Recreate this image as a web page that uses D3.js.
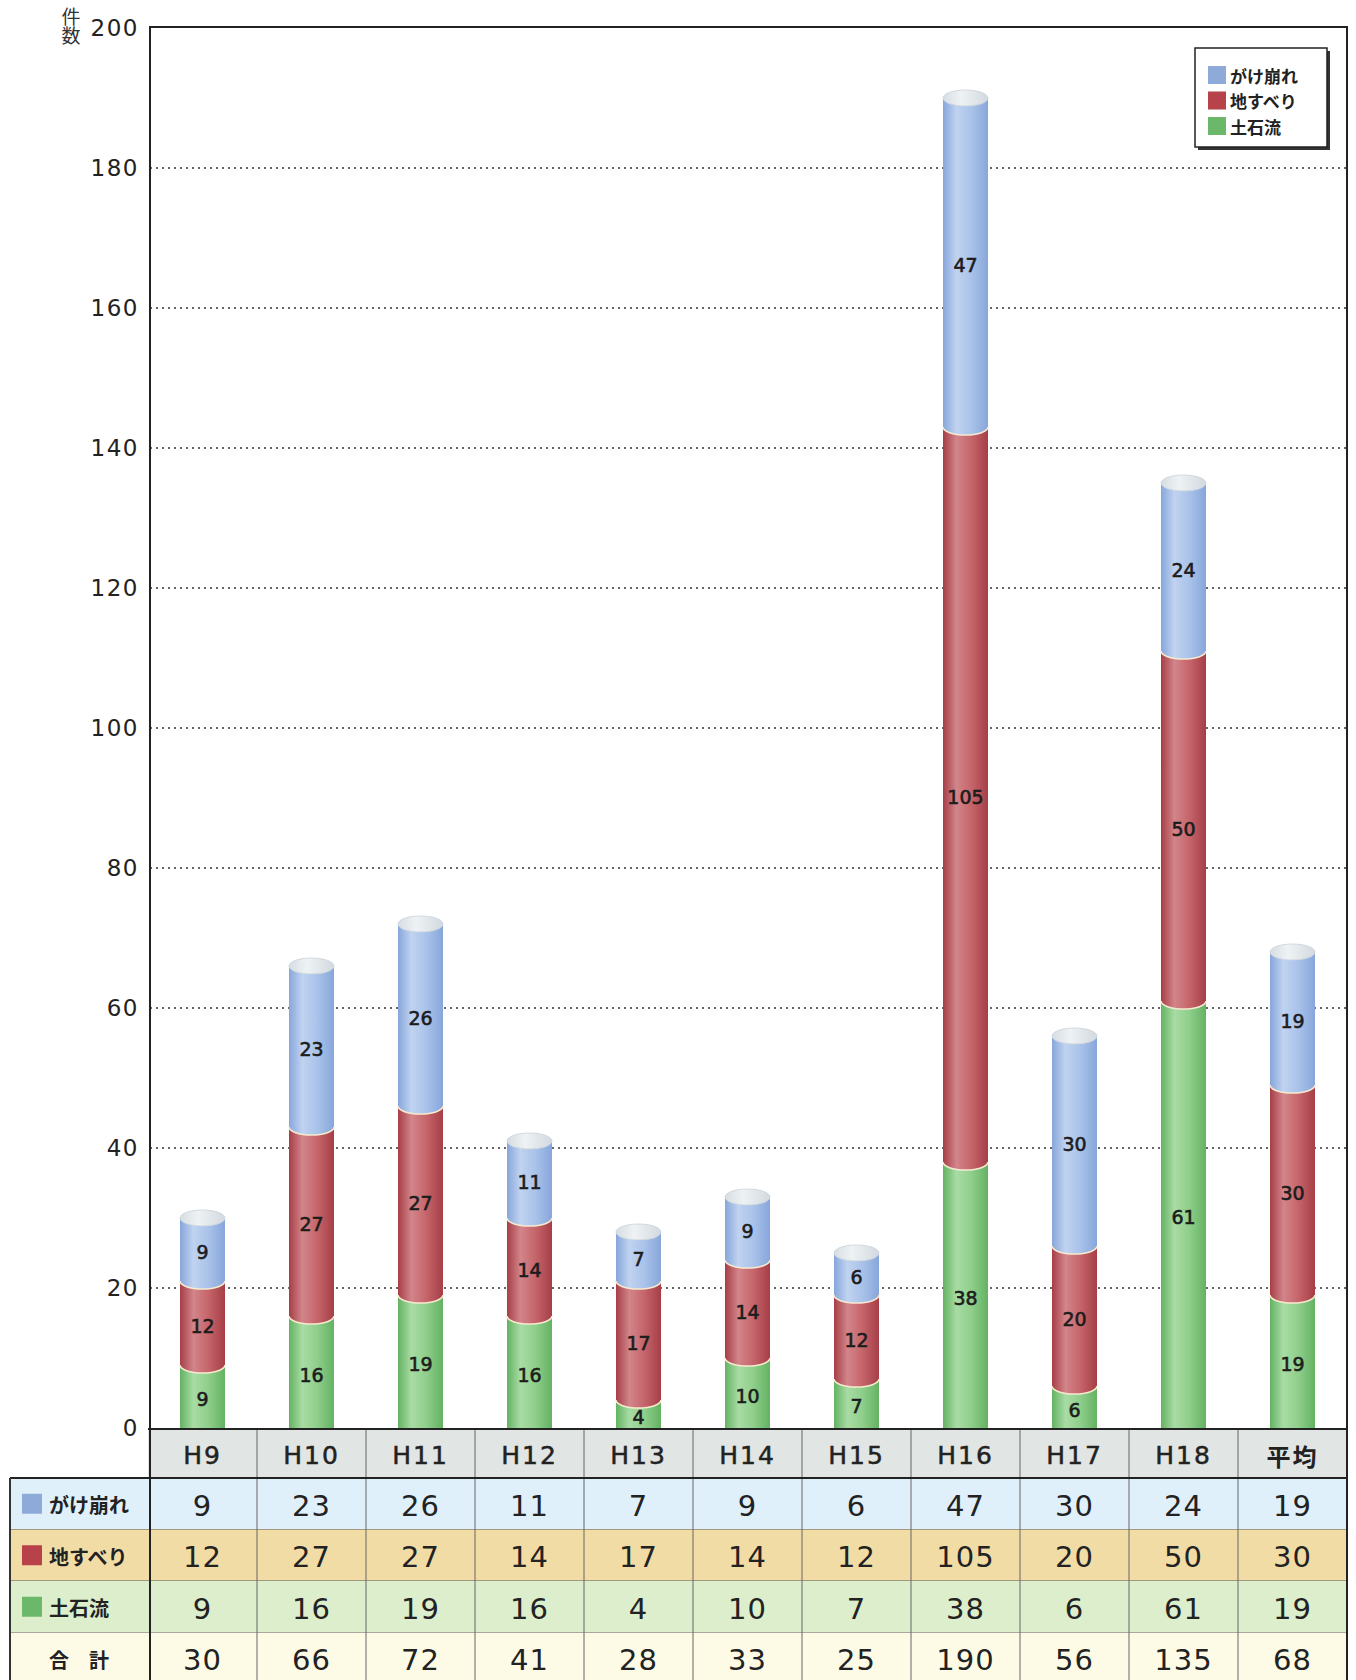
<!DOCTYPE html>
<html>
<head>
<meta charset="utf-8">
<script src="https://cdn.jsdelivr.net/npm/d3@7"></script>
<style>
  html, body { margin: 0; padding: 0; background: #fff; }
  svg { display: block; }
</style>
</head>
<body>
<svg id="chart" width="1356" height="1680"></svg>
<script>
// 年度別の土砂災害発生件数
const categories = ["H9", "H10", "H11", "H12", "H13", "H14", "H15", "H16", "H17", "H18", "平均"];
const gakekuzure = [9, 23, 26, 11, 7, 9, 6, 47, 30, 24, 19];
const jisuberi   = [12, 27, 27, 14, 17, 14, 12, 105, 20, 50, 30];
const dosekiryu  = [9, 16, 19, 16, 4, 10, 7, 38, 6, 61, 19];
const totals     = [30, 66, 72, 41, 28, 33, 25, 190, 56, 135, 68];
const yTicks = [0, 20, 40, 60, 80, 100, 120, 140, 160, 180, 200];
const seriesNames = ["がけ崩れ", "地すべり", "土石流"];

const series = [
  { key: "dosekiryu", values: dosekiryu, edge: "#64b262", mid: "#90cf8c", light: "#a8dca4", swatch: "#6cb86a" },
  { key: "jisuberi", values: jisuberi, edge: "#a63e47", mid: "#c6666b", light: "#d2858a", swatch: "#b8424a" },
  { key: "gakekuzure", values: gakekuzure, edge: "#87a6da", mid: "#aac3ea", light: "#c0d3f0", swatch: "#8eaad8" }
];

const svg = d3.select("#chart");
const W = 1356, H = 1680;
const plotLeft = 148, plotRight = 1347, plotTop = 28, plotBottom = 1428;

const x = d3.scaleBand().domain(categories).range([plotLeft, plotRight]).padding(0);
const y = d3.scaleLinear().domain([0, 200]).range([plotBottom, plotTop]);

const barW = 45, rx = barW / 2, ry = 8;
const numFont = "'DejaVu Sans', 'Noto Sans CJK JP', sans-serif";
const jpFont = "'Noto Sans CJK JP', 'DejaVu Sans', sans-serif";

const defs = svg.append("defs");
series.forEach(s => {
  const g = defs.append("linearGradient").attr("id", "grad-" + s.key)
    .attr("x1", "0%").attr("x2", "100%").attr("y1", "0%").attr("y2", "0%");
  g.append("stop").attr("offset", "0%").attr("stop-color", s.edge);
  g.append("stop").attr("offset", "30%").attr("stop-color", s.light);
  g.append("stop").attr("offset", "62%").attr("stop-color", s.mid);
  g.append("stop").attr("offset", "100%").attr("stop-color", s.edge);
});
const capGrad = defs.append("linearGradient").attr("id", "grad-cap")
  .attr("x1", "0%").attr("x2", "100%").attr("y1", "0%").attr("y2", "0%");
capGrad.append("stop").attr("offset", "0%").attr("stop-color", "#d6dde2");
capGrad.append("stop").attr("offset", "40%").attr("stop-color", "#eef2f4");
capGrad.append("stop").attr("offset", "100%").attr("stop-color", "#d2d9df");
defs.append("clipPath").attr("id", "plot-clip")
  .append("rect").attr("x", 0).attr("y", 0).attr("width", W).attr("height", plotBottom);

// dotted gridlines
svg.append("g").selectAll("line")
  .data(yTicks.filter(t => t > 0 && t < 200))
  .join("line")
  .attr("x1", plotLeft + 2).attr("x2", plotRight)
  .attr("y1", d => y(d)).attr("y2", d => y(d))
  .attr("stroke", "#333").attr("stroke-width", 1.6)
  .attr("stroke-dasharray", "2,4");

// y-axis tick labels
const yAxis = d3.axisLeft(y).tickValues(yTicks).tickSize(0).tickPadding(9);
const yG = svg.append("g").attr("transform", `translate(${plotLeft},0)`).call(yAxis);
yG.select(".domain").remove();
yG.selectAll("text")
  .attr("font-family", numFont).attr("font-size", 23).attr("fill", "#222")
  .attr("letter-spacing", 1.5);

// axis title 件数, set vertically
svg.append("text")
  .attr("x", 71).attr("y", 7)
  .attr("font-family", jpFont).attr("font-size", 19).attr("fill", "#333")
  .style("writing-mode", "vertical-rl")
  .text("件数");

// stacked cylinders
const stack = categories.map((c, i) => {
  let base = 0;
  return series.map(s => {
    const seg = { cat: c, s, v: s.values[i], y0: base, y1: base + s.values[i] };
    base += s.values[i];
    return seg;
  });
});

function segPath(cx, yt, yb) {
  return `M${cx - rx},${yt} A${rx},${ry} 0 0 0 ${cx + rx},${yt} L${cx + rx},${yb} A${rx},${ry} 0 0 1 ${cx - rx},${yb} Z`;
}

const barsG = svg.append("g").attr("clip-path", "url(#plot-clip)");
stack.forEach(segs => {
  const cx = x(segs[0].cat) + x.bandwidth() / 2;
  const g = barsG.append("g");
  // bottom-up, each segment's lower arc rests on the one below
  segs.forEach(seg => {
    g.append("path")
      .attr("d", segPath(cx, y(seg.y1), y(seg.y0)))
      .attr("fill", `url(#grad-${seg.s.key})`);
    if (seg.y0 > 0) {
      g.append("path")
        .attr("d", `M${cx - rx},${y(seg.y0)} A${rx},${ry} 0 0 0 ${cx + rx},${y(seg.y0)}`)
        .attr("fill", "none").attr("stroke", "#f6ead0").attr("stroke-width", 1.6);
    }
  });
  const top = segs[segs.length - 1];
  g.append("ellipse").attr("cx", cx).attr("cy", y(top.y1)).attr("rx", rx).attr("ry", ry)
    .attr("fill", "url(#grad-cap)").attr("stroke", "#c8d2da").attr("stroke-width", 0.8);
  // value labels
  segs.forEach(seg => {
    g.append("text")
      .attr("x", cx).attr("y", (y(seg.y0) + y(seg.y1)) / 2 + ry / 2)
      .attr("text-anchor", "middle").attr("dominant-baseline", "middle")
      .attr("font-family", numFont).attr("font-size", 19).attr("fill", "#1c1c1c")
      .attr("stroke", "#1c1c1c").attr("stroke-width", 0.6)
      .text(seg.v);
  });
});

// frame
svg.append("path")
  .attr("d", `M${plotLeft + 2},1478 L${plotLeft + 2},${plotTop - 1} L${plotRight},${plotTop - 1} L${plotRight},${H}`)
  .attr("fill", "none").attr("stroke", "#222").attr("stroke-width", 2);
svg.append("line").attr("x1", plotLeft).attr("x2", plotRight).attr("y1", plotBottom + 1).attr("y2", plotBottom + 1)
  .attr("stroke", "#222").attr("stroke-width", 2);

// legend
const lg = svg.append("g");
lg.append("rect").attr("x", 1198).attr("y", 51).attr("width", 132).attr("height", 99).attr("fill", "#333");
lg.append("rect").attr("x", 1195).attr("y", 48).attr("width", 132).attr("height", 99)
  .attr("fill", "#fff").attr("stroke", "#222").attr("stroke-width", 1.5);
const legendItems = series.slice().reverse();
legendItems.forEach((s, i) => {
  const cy = 75 + i * 25.5;
  lg.append("rect").attr("x", 1208).attr("y", cy - 9).attr("width", 18).attr("height", 18).attr("fill", s.swatch);
  lg.append("text").attr("x", 1230).attr("y", cy).attr("dominant-baseline", "central")
    .attr("font-family", jpFont).attr("font-size", 17).attr("font-weight", 700).attr("fill", "#222")
    .text(seriesNames[i]);
});

// data table
const tbl = svg.append("g");
const tableLeft = 10, labelRight = plotLeft;
const headerTop = 1430, rowH = 51.5;
const rows = [
  { label: seriesNames[0], values: gakekuzure, bg: "#dff0fa", swatch: series[2].swatch },
  { label: seriesNames[1], values: jisuberi, bg: "#f1dca6", swatch: series[1].swatch },
  { label: seriesNames[2], values: dosekiryu, bg: "#dceecb", swatch: series[0].swatch },
  { label: "合　計", values: totals, bg: "#fdfbe6", swatch: null }
];
const headerBottom = 1478;
// header row
tbl.append("rect").attr("x", plotLeft).attr("y", headerTop).attr("width", plotRight - plotLeft).attr("height", headerBottom - headerTop)
  .attr("fill", "#e1e5e4");
categories.forEach(c => {
  tbl.append("text").attr("x", x(c) + x.bandwidth() / 2).attr("y", (headerTop + headerBottom) / 2 + 1)
    .attr("text-anchor", "middle").attr("dominant-baseline", "central")
    .attr("font-family", c === "平均" ? jpFont : numFont).attr("font-size", c === "平均" ? 24 : 25)
    .attr("font-weight", c === "平均" ? 700 : 400)
    .attr("letter-spacing", 2).attr("fill", "#222")
    .attr("stroke", "#222").attr("stroke-width", c === "平均" ? 0 : 0.5)
    .text(c);
});
rows.forEach((r, i) => {
  const top = headerBottom + i * rowH;
  tbl.append("rect").attr("x", tableLeft).attr("y", top).attr("width", plotRight - tableLeft).attr("height", rowH)
    .attr("fill", r.bg);
  if (r.swatch) {
    tbl.append("rect").attr("x", 22).attr("y", top + rowH / 2 - 10).attr("width", 20).attr("height", 20).attr("fill", r.swatch);
    tbl.append("text").attr("x", 49).attr("y", top + rowH / 2 + 1).attr("dominant-baseline", "central")
      .attr("font-family", jpFont).attr("font-size", 20).attr("font-weight", 700).attr("fill", "#222")
      .text(r.label);
  } else {
    tbl.append("text").attr("x", (tableLeft + labelRight) / 2).attr("y", top + rowH / 2 + 1)
      .attr("text-anchor", "middle").attr("dominant-baseline", "central")
      .attr("font-family", jpFont).attr("font-size", 20).attr("font-weight", 700).attr("fill", "#222")
      .text(r.label);
  }
  r.values.forEach((v, j) => {
    tbl.append("text").attr("x", x(categories[j]) + x.bandwidth() / 2).attr("y", top + rowH / 2 + 2)
      .attr("text-anchor", "middle").attr("dominant-baseline", "central")
      .attr("font-family", numFont).attr("font-size", 29).attr("letter-spacing", 1).attr("fill", "#222")
      .text(v);
  });
  // row separator
  tbl.append("line").attr("x1", tableLeft).attr("x2", plotRight).attr("y1", top + rowH).attr("y2", top + rowH)
    .attr("stroke", "#555").attr("stroke-width", 1.2);
});
// column separators
categories.slice(1).forEach(c => {
  tbl.append("line").attr("x1", x(c)).attr("x2", x(c)).attr("y1", headerTop).attr("y2", H)
    .attr("stroke", "#666").attr("stroke-width", 1);
});
// heavy borders
tbl.append("line").attr("x1", tableLeft).attr("x2", plotRight).attr("y1", headerBottom).attr("y2", headerBottom)
  .attr("stroke", "#222").attr("stroke-width", 2.2);
tbl.append("line").attr("x1", tableLeft).attr("x2", tableLeft).attr("y1", headerBottom).attr("y2", H)
  .attr("stroke", "#333").attr("stroke-width", 2);
tbl.append("line").attr("x1", plotLeft + 2).attr("x2", plotLeft + 2).attr("y1", headerTop).attr("y2", H)
  .attr("stroke", "#222").attr("stroke-width", 2);
tbl.append("line").attr("x1", plotRight).attr("x2", plotRight).attr("y1", headerTop).attr("y2", H)
  .attr("stroke", "#222").attr("stroke-width", 2);
</script>
</body>
</html>
